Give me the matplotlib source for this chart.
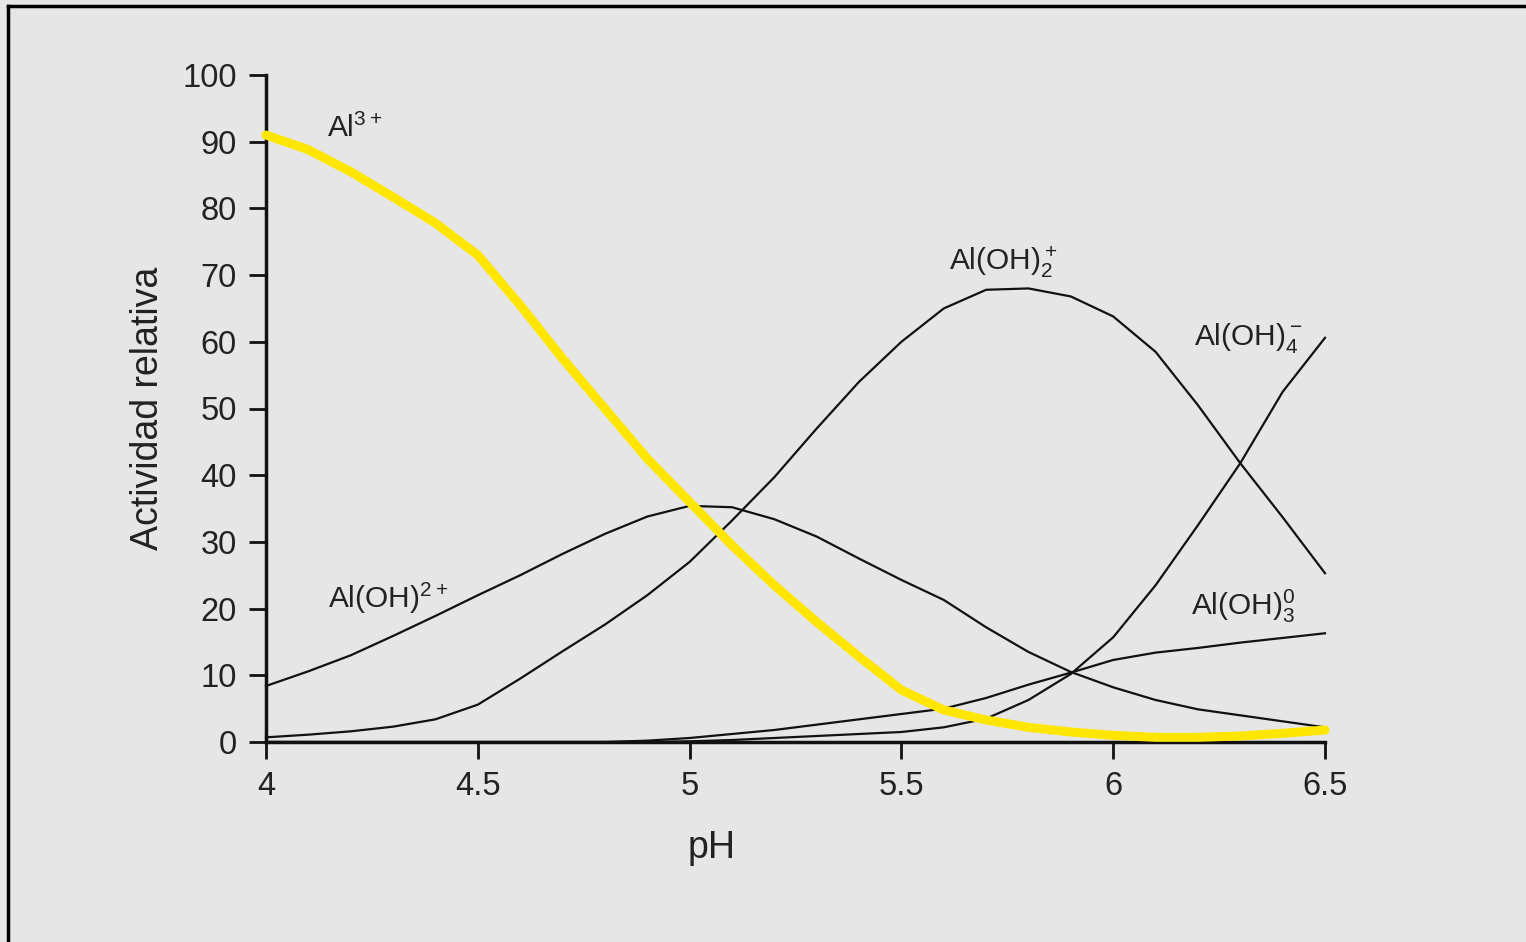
import matplotlib.pyplot as plt
from matplotlib.lines import Line2D

plt.rcParams['font.family'] = ['Liberation Sans', 'DejaVu Sans']
plt.rcParams['mathtext.default'] = 'regular'

# pH grid and relative activity of each species
ph = [4.0, 4.1, 4.2, 4.3, 4.4, 4.5, 4.6, 4.7, 4.8, 4.9,
      5.0, 5.1, 5.2, 5.3, 5.4, 5.5, 5.6, 5.7, 5.8, 5.9,
      6.0, 6.1, 6.2, 6.3, 6.4, 6.5]

al3 = [91.0, 88.8, 85.5, 81.7, 77.8, 73.0, 65.5, 57.5, 50.0, 42.5,
       36.0, 29.5, 23.5, 18.0, 12.8, 7.8, 4.8, 3.3, 2.2, 1.5,
       1.0, 0.7, 0.7, 0.9, 1.3, 1.8]

al_oh = [8.4, 10.6, 13.0, 15.9, 18.9, 22.0, 25.0, 28.2, 31.2, 33.8,
         35.4, 35.2, 33.4, 30.8, 27.5, 24.3, 21.3, 17.2, 13.5, 10.5,
         8.2, 6.3, 4.9, 4.0, 3.1, 2.2]

al_oh2 = [0.7, 1.1, 1.6, 2.3, 3.4, 5.6, 9.5, 13.6, 17.6, 22.0,
          27.0, 33.2, 39.7, 47.0, 54.0, 60.0, 65.0, 67.8, 68.0, 66.8,
          63.8, 58.5, 50.5, 41.8, 33.7, 25.3]

al_oh3 = [0.0, 0.0, 0.0, 0.0, 0.0, 0.0, 0.0, 0.0, 0.0, 0.2,
          0.6, 1.2, 1.8, 2.6, 3.4, 4.2, 5.0, 6.6, 8.6, 10.4,
          12.3, 13.4, 14.1, 14.9, 15.6, 16.3]

al_oh4 = [0.0, 0.0, 0.0, 0.0, 0.0, 0.0, 0.0, 0.0, 0.0, 0.0,
          0.1, 0.3, 0.6, 0.9, 1.2, 1.5, 2.2, 3.5, 6.3, 10.2,
          15.7, 23.5, 32.5, 41.8, 52.5, 60.6]

bg = '#e6e6e6'
ink = '#222222'

fig = plt.figure(figsize=(15.26, 9.42), dpi=100, facecolor=bg)
ax = fig.add_axes([266 / 1526, 1 - 742 / 942, 1059 / 1526, 667 / 942])
ax.set_facecolor(bg)

for y in [al_oh, al_oh2, al_oh3, al_oh4]:
    ax.plot(ph, y, color='#111111', lw=1.6, solid_joinstyle='round', clip_on=False)
ax.plot(ph, al3, color='#ffe600', lw=6.5, solid_capstyle='round',
        solid_joinstyle='round', clip_on=False, zorder=3)

ax.set_xlim(4, 6.5)
ax.set_ylim(0, 100)
ax.set_xticks([4, 4.5, 5, 5.5, 6, 6.5])
ax.set_xticklabels(['4', '4.5', '5', '5.5', '6', '6.5'])
ax.set_yticks(range(0, 101, 10))

for s in ['top', 'right']:
    ax.spines[s].set_visible(False)
for s in ['left', 'bottom']:
    ax.spines[s].set_linewidth(2.5)
    ax.spines[s].set_color('#111111')
ax.tick_params(direction='out', length=12, width=2, color='#111111',
               labelsize=23.5, labelcolor=ink, pad=9)

ax.set_xlabel('pH', fontsize=27, color=ink)
ax.xaxis.set_label_coords(0.421, -0.159)
ax.xaxis.label.set_va('center')
ax.set_ylabel('Actividad relativa', fontsize=27, color=ink)
ax.yaxis.set_label_coords(-0.111, 0.5)
ax.yaxis.label.set_va('center')

lbl = dict(fontsize=21.5, color=ink, ha='left', va='baseline')
ax.text(4.144, 90.7, r'Al$^{3+}$', **lbl)
ax.text(5.612, 70.8, r'Al(OH)$_2^+$', **lbl)
ax.text(6.19, 59.5, r'Al(OH)$_4^-$', **lbl)
ax.text(6.184, 19.0, r'Al(OH)$_3^0$', **lbl)
ax.text(4.147, 20.1, r'Al(OH)$^{2+}$', **lbl)

# frame of the original picture (left and top edges)
fig.add_artist(Line2D([8 / 1526, 8 / 1526], [0, 1 - 6 / 942], color='black', lw=2.5))
fig.add_artist(Line2D([8 / 1526, 1], [1 - 6 / 942, 1 - 6 / 942], color='black', lw=2.5))

plt.savefig('out.png', dpi=100, facecolor=bg)
